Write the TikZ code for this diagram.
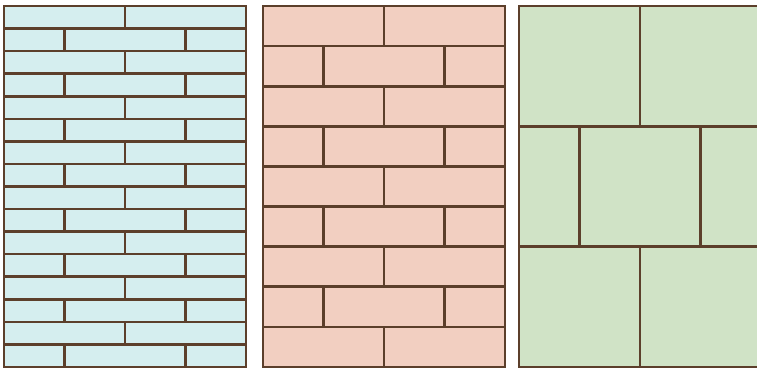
\documentclass[tikz,border=0pt]{standalone}
\definecolor{brick}{HTML}{5C3F2B}
\definecolor{fillA}{HTML}{D5EEEF}
\definecolor{fillB}{HTML}{F2CFC1}
\definecolor{fillC}{HTML}{D0E3C6}
\tikzset{mortar/.style={draw=brick,line width=2.6pt,line cap=rect}}
\begin{document}
\begin{tikzpicture}[x=1pt,y=-1pt]
\useasboundingbox (0,0) rectangle (757,369);
\clip (0,0) rectangle (757,369);
% panel(x0, rows, fill)
\foreach \xo/\n/\col in {4/16/fillA, 263/9/fillB, 519/3/fillC}{
  \pgfmathsetmacro{\h}{361/\n}
  \fill[\col] (\xo,6) rectangle ++(242,361);
  \foreach \i in {1,...,\n}{
    \pgfmathsetmacro{\ya}{6+(\i-1)*\h}
    \pgfmathsetmacro{\yb}{6+\i*\h}
    \ifodd\i
      \draw[mortar] (\xo+121,\ya) -- (\xo+121,\yb);
    \else
      \draw[mortar] (\xo+60.5,\ya) -- (\xo+60.5,\yb);
      \draw[mortar] (\xo+181.5,\ya) -- (\xo+181.5,\yb);
    \fi
  }
  \foreach \i in {1,...,\n}{
    \ifnum\i<\n
      \pgfmathsetmacro{\yb}{6+\i*\h}
      \draw[mortar] (\xo,\yb) -- (\xo+242,\yb);
    \fi
  }
  \draw[mortar] (\xo,6) rectangle ++(242,361);
}
\end{tikzpicture}
\end{document}
